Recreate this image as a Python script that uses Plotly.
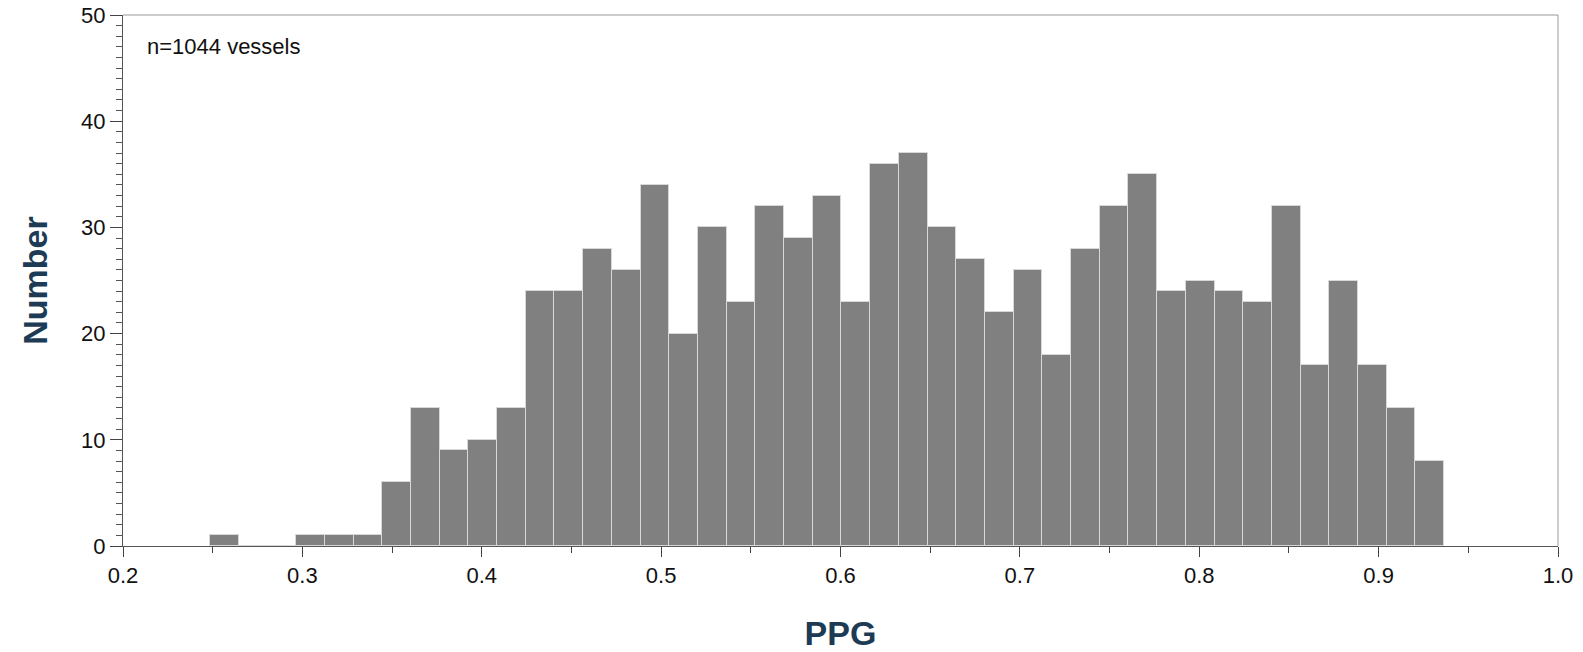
import plotly.graph_objects as go

# Histogram of PPG values, fixed-width bins
bin_start = 0.2485
bin_width = 0.016
counts = [1, 0, 0, 1, 1, 1, 6, 13, 9, 10, 13, 24, 24, 28, 26, 34, 20, 30, 23, 32,
          29, 33, 23, 36, 37, 30, 27, 22, 26, 18, 28, 32, 35, 24, 25, 24, 23, 32,
          17, 25, 17, 13, 8]
x_ticks = [0.2, 0.3, 0.4, 0.5, 0.6, 0.7, 0.8, 0.9, 1.0]
x_tick_labels = ["0.2", "0.3", "0.4", "0.5", "0.6", "0.7", "0.8", "0.9", "1.0"]
y_ticks = [0, 10, 20, 30, 40, 50]

centers = [bin_start + (i + 0.5) * bin_width for i in range(len(counts))]

FONT = "Liberation Sans, Arial, sans-serif"
TITLE_COLOR = "#1d3b55"

fig = go.Figure()
fig.add_trace(go.Bar(
    x=centers,
    y=counts,
    width=bin_width,
    marker=dict(color="#808080", line=dict(color="#d8d8d8", width=1)),
    hoverinfo="x+y",
))

fig.update_layout(
    width=1583,
    height=652,
    margin=dict(l=123, r=25, t=15, b=106),
    plot_bgcolor="white",
    paper_bgcolor="white",
    showlegend=False,
    font=dict(family=FONT, size=22, color="#111111"),
    bargap=0,
    annotations=[dict(
        text="n=1044 vessels",
        xref="paper", yref="paper",
        x=0.015, y=0.94, xanchor="left", yanchor="middle",
        showarrow=False,
        font=dict(family=FONT, size=22, color="#111111"),
    )],
)

fig.update_xaxes(
    range=[0.2, 1.0],
    tickvals=x_ticks,
    ticktext=x_tick_labels,
    ticks="outside",
    ticklen=10,
    tickwidth=1,
    tickcolor="#444444",
    showline=True,
    linecolor="#555555",
    linewidth=1,
    mirror=False,
    showgrid=False,
    zeroline=False,
    automargin=False,
    layer="above traces",
    minor=dict(dtick=0.05, ticks="outside", ticklen=6, tickcolor="#444444", showgrid=False),
    title=dict(text="<b>PPG</b>", font=dict(family=FONT, size=34, color=TITLE_COLOR), standoff=36),
)

fig.update_yaxes(
    range=[0, 50],
    tickvals=y_ticks,
    ticks="outside",
    ticklen=12,
    tickwidth=1,
    tickcolor="#444444",
    showline=True,
    linecolor="#555555",
    linewidth=1,
    showgrid=False,
    zeroline=False,
    automargin=False,
    layer="above traces",
    minor=dict(dtick=1, ticks="outside", ticklen=6, tickcolor="#555555", showgrid=False),
    title=dict(text="<b>Number</b>", font=dict(family=FONT, size=34, color=TITLE_COLOR), standoff=23),
)

# light frame along the top and right edges
fig.add_shape(type="line", xref="paper", yref="paper", x0=0, x1=1, y0=1, y1=1,
              line=dict(color="#999999", width=1))
fig.add_shape(type="line", xref="paper", yref="paper", x0=1, x1=1, y0=0, y1=1,
              line=dict(color="#999999", width=1))

fig.write_html("out.html")
